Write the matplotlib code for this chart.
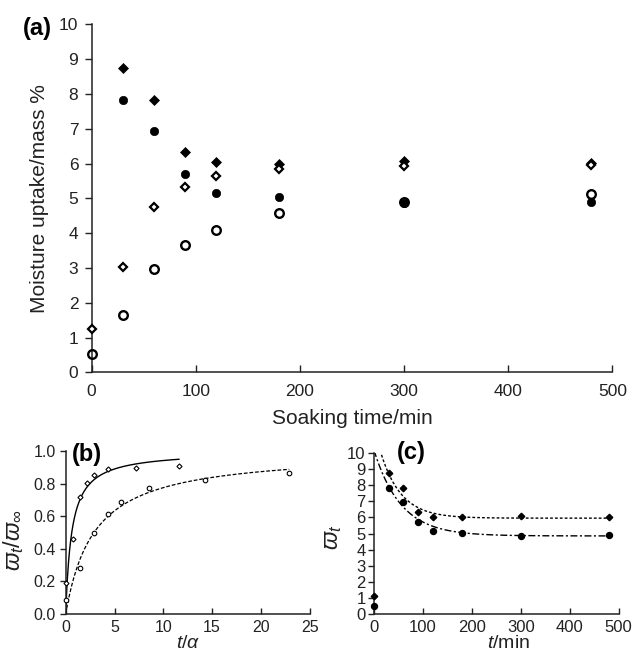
import numpy as np
import matplotlib
matplotlib.use('Agg')
import matplotlib.pyplot as plt

plt.rcParams['font.family'] = ['Liberation Sans', 'DejaVu Sans']
plt.rcParams['mathtext.fontset'] = 'custom'
plt.rcParams['mathtext.rm'] = 'Liberation Sans'
plt.rcParams['mathtext.it'] = 'Liberation Sans:italic'
plt.rcParams['mathtext.bf'] = 'Liberation Sans:bold'

# ---------------- data ----------------
time_min = [0, 30, 60, 90, 120, 180, 300, 480]
filled_diamond = [1.12, 8.75, 7.82, 6.33, 6.03, 6.00, 6.08, 6.02]
filled_circle = [0.50, 7.82, 6.93, 5.71, 5.15, 5.04, 4.87, 4.88]
open_diamond = [1.24, 3.03, 4.74, 5.32, 5.63, 5.85, 5.93, 5.97]
open_circle = [0.53, 1.65, 2.96, 3.65, 4.08, 4.57, 4.89, 5.12]

b_upper_x = [0, 0.73, 1.45, 2.17, 2.90, 4.35, 7.25, 11.6]
b_upper_y = [0.19, 0.46, 0.72, 0.806, 0.855, 0.887, 0.898, 0.906]
b_lower_x = [0, 1.43, 2.86, 4.29, 5.71, 8.57, 14.3, 22.9]
b_lower_y = [0.086, 0.28, 0.50, 0.616, 0.687, 0.771, 0.822, 0.863]

# fitted model parameters
b_upper_fit = dict(c=1.0, k=0.62, xmax=11.6)    # y = c*x/(k+x)
b_lower_fit = dict(c=1.0, k=2.9, xmax=22.9)
c_upper_fit = dict(inf=5.95, amp=5.66, tau=41.6)  # y = inf + amp*exp(-t/tau)
c_lower_fit = dict(inf=4.85, amp=5.30, tau=55.0)

W, H = 633, 655
fig = plt.figure(figsize=(W / 100, H / 100), dpi=100)


def box(l, t, r, b):
    return [l / W, 1 - b / H, (r - l) / W, (b - t) / H]


def style(ax, tick_fs, xpad, ypad, ticklen):
    for s in ['top', 'right']:
        ax.spines[s].set_visible(False)
    for s in ['left', 'bottom']:
        ax.spines[s].set_linewidth(1.1)
        ax.spines[s].set_color('#222222')
    ax.tick_params(axis='y', direction='out', length=ticklen, width=1.0,
                   labelsize=tick_fs, pad=ypad, colors='#222222')
    ax.tick_params(axis='x', direction='in', length=ticklen, width=1.0,
                   labelsize=tick_fs, pad=xpad, colors='#222222')


# ---------------- (a) ----------------
ax = fig.add_axes(box(91.5, 24.3, 612.3, 372.3))
# at t = 0 only the open symbols are visible in panel (a)
ax.plot(time_min, open_circle, 'o', ms=6.2, mfc='none', mec='black', mew=1.7, zorder=3, clip_on=False)
ax.plot(time_min[1:], filled_circle[1:], 'o', ms=6.0, mfc='black', mec='black', mew=0.5, zorder=4, clip_on=False)
ax.plot(time_min[1:], filled_diamond[1:], 'D', ms=4.6, mfc='black', mec='black', mew=0.5, zorder=5, clip_on=False)
ax.plot(time_min, open_diamond, 'D', ms=4.4, mfc='white', mec='black', mew=1.6, zorder=6, clip_on=False)
ax.set_xlim(0, 500)
ax.set_ylim(0, 10)
ax.set_xticks(range(0, 501, 100))
ax.set_yticks(range(0, 11))
style(ax, 12.5, 8.5, 4.5, 5)
fig.text(352 / W, 1 - 418 / H, 'Soaking time/min', fontsize=15, ha='center', va='center', color='#222222')
fig.text(40 / W, 1 - 199 / H, 'Moisture uptake/mass %', fontsize=15, ha='center', va='center',
         rotation=90, color='#222222')
fig.text(37 / W, 1 - 28 / H, '(a)', fontsize=17, fontweight='bold', ha='center', va='center')

# ---------------- (b) ----------------
axb = fig.add_axes(box(65.7, 451, 309.7, 614))
xu = np.linspace(0, b_upper_fit['xmax'], 400)
axb.plot(xu, b_upper_fit['c'] * xu / (b_upper_fit['k'] + xu), '-', color='black', lw=1.0)
xl = np.linspace(0, b_lower_fit['xmax'], 400)
axb.plot(xl, b_lower_fit['c'] * xl / (b_lower_fit['k'] + xl), color='black', lw=0.9,
         dashes=(3, 1.5))
axb.plot(b_upper_x, b_upper_y, 'D', ms=2.6, mfc='white', mec='black', mew=0.8, clip_on=False, zorder=4)
axb.plot(b_lower_x, b_lower_y, 'o', ms=3.3, mfc='white', mec='black', mew=0.8, clip_on=False, zorder=4)
axb.set_xlim(0, 25)
axb.set_ylim(0, 1.0)
axb.set_xticks(range(0, 26, 5))
axb.set_yticks(np.arange(0, 1.01, 0.2))
axb.set_yticklabels(['%.1f' % v for v in np.arange(0, 1.01, 0.2)])
style(axb, 11.5, 4, 3, 4)
fig.text(188 / W, 1 - 643 / H, r'$t/\alpha$', fontsize=14, ha='center', va='center', color='#222222')
fig.text(14 / W, 1 - 540 / H, r'$\varpi_t/\varpi_\infty$', fontsize=17, ha='center', va='center',
         rotation=90, color='#222222')
fig.text(87 / W, 1 - 454 / H, '(b)', fontsize=17, fontweight='bold', ha='center', va='center')

# ---------------- (c) ----------------
axc = fig.add_axes(box(374, 452.7, 618.7, 614.3))
tt = np.linspace(0, 480, 600)
axc.plot(tt, c_upper_fit['inf'] + c_upper_fit['amp'] * np.exp(-tt / c_upper_fit['tau']),
         color='black', lw=1.0, dashes=(2, 1.5))
axc.plot(tt, c_lower_fit['inf'] + c_lower_fit['amp'] * np.exp(-tt / c_lower_fit['tau']),
         color='black', lw=1.0, dashes=(5, 1.8, 1.5, 1.8))
axc.plot(time_min, filled_diamond, 'D', ms=3.3, mfc='black', mec='black', clip_on=False, zorder=4)
axc.plot(time_min, filled_circle, 'o', ms=4.3, mfc='black', mec='black', clip_on=False, zorder=4)
axc.set_xlim(0, 500)
axc.set_ylim(0, 10)
axc.set_xticks(range(0, 501, 100))
axc.set_yticks(range(0, 11))
style(axc, 12, 4, 2, 4)
fig.text(509 / W, 1 - 643 / H, r'$t$/min', fontsize=14, ha='center', va='center', color='#222222')
fig.text(333 / W, 1 - 537 / H, r'$\varpi_t$', fontsize=17, ha='center', va='center',
         rotation=90, color='#222222')
fig.text(411 / W, 1 - 452 / H, '(c)', fontsize=17, fontweight='bold', ha='center', va='center')

fig.savefig('out.png', dpi=100)
